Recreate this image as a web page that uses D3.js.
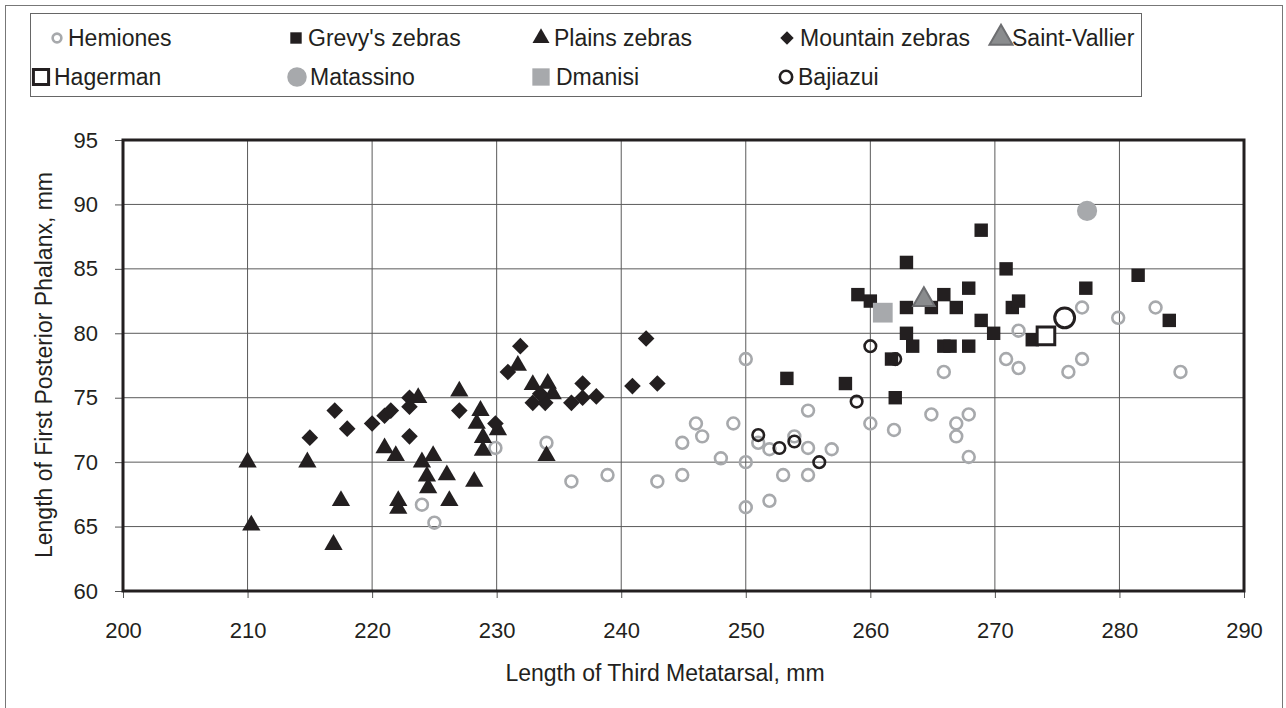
<!DOCTYPE html>
<html>
<head>
<meta charset="utf-8">
<script src="https://cdn.jsdelivr.net/npm/d3@7"></script>
<style>
  body { margin: 0; background: #fff; }
  svg { font-family: "Liberation Sans", Arial, sans-serif; }
</style>
</head>
<body>
<script>
// values: [metatarsal length, phalanx length]
var hemiones = [[224,66.7],[225,65.3],[229.9,71.1],[234,71.5],[236,68.5],[238.9,69],[242.9,68.5],
  [244.9,69],[244.9,71.5],[246,73],[246.5,72],[248,70.3],[249,73],[250,78],[250,70],[250,66.5],
  [251,71.5],[251.9,71],[251.9,67],[253,69],[253.9,72],[255,74],[255,71.1],[256.9,71],[255,69],
  [260,73],[261.9,72.5],[264.9,73.7],[265.9,77],[266.9,73],[266.9,72],[267.9,73.7],[267.9,70.4],
  [270.9,78],[271.9,80.2],[271.9,77.3],[275.9,77],[277,78],[277,82],[279.9,81.2],[282.9,82],[284.9,77]];

var grevys = [[253.3,76.5],[258,76.1],[259,83],[260,82.5],[261.7,78],[262,75],[262.9,85.5],
  [262.9,82],[262.9,80],[263.4,79],[264.9,82],[265.9,83],[265.9,79],[266.4,79],[266.9,82],
  [267.9,83.5],[267.9,79],[268.9,88],[268.9,81],[269.9,80],[270.9,85],[271.4,82],[271.9,82.5],
  [273,79.5],[277.3,83.5],[281.5,84.5],[284,81]];

var plains = [[210,70],[210.3,65.1],[214.8,70],[216.9,63.6],[217.5,67],[221,71.1],[221.9,70.5],
  [222.1,67],[222.1,66.4],[223.7,75],[224,70],[224.4,68.9],[224.5,68],[224.9,70.5],[226,69],
  [226.2,67],[227,75.5],[228.2,68.5],[228.4,73],[228.7,74],[228.9,71.9],[228.9,70.9],[230.1,72.5],
  [231.7,77.5],[232.9,76],[234.1,76.1],[234.5,75.3],[234,70.5]];

var mountain = [[215,71.9],[217,74],[218,72.6],[220,73],[221,73.6],[221.5,74],[223,75],[223,74.3],
  [223,72],[227,74],[229.9,73],[230.9,77],[231.9,79],[232.9,74.6],[233.9,74.6],[233.5,75.3],
  [236,74.6],[236.9,76.1],[236.9,75],[238,75.1],[240.9,75.9],[242,79.6],[242.9,76.1]];

var saintVallier = [[264.3,82.6]];
var hagerman = [[274.1,79.8]];
var matassino = [[277.4,89.5]];
var dmanisi = [[261,81.6]];
var bajiazui = [[251,72.1],[252.7,71.1],[253.9,71.6],[255.9,70],[258.9,74.7],[260,79],[262,78]];
var bajiazuiMean = [[275.6,81.2]];

var xTicks = [200,210,220,230,240,250,260,270,280,290];
var yTicks = [60,65,70,75,80,85,90,95];

var legendRow1 = ["Hemiones","Grevy's zebras","Plains zebras","Mountain zebras","Saint-Vallier"];
var legendRow2 = ["Hagerman","Matassino","Dmanisi","Bajiazui"];

var screen = {width: 1286, height: 708};
var plot = {left: 123, right: 1244, top: 140, bottom: 591};
var ink = "#231f20", grey = "#a7a9ac";

var svg = d3.select("body").append("svg")
            .attr("width", screen.width)
            .attr("height", screen.height);

// outer frame
svg.append("rect").attr("x", 5.5).attr("y", 5.5)
   .attr("width", 1277).attr("height", 720)
   .attr("fill", "none").attr("stroke", "#777").attr("stroke-width", 1);

var x = d3.scaleLinear().domain([200, 290]).range([plot.left, plot.right]);
var y = d3.scaleLinear().domain([60, 95]).range([plot.bottom, plot.top]);

// grid
svg.append("g").selectAll("line").data(xTicks.slice(1, -1)).join("line")
   .attr("x1", d => x(d)).attr("x2", d => x(d))
   .attr("y1", plot.top).attr("y2", plot.bottom)
   .attr("stroke", "#5a5a5a").attr("stroke-width", 1);
svg.append("g").selectAll("line").data(yTicks.slice(1, -1)).join("line")
   .attr("x1", plot.left).attr("x2", plot.right)
   .attr("y1", d => y(d)).attr("y2", d => y(d))
   .attr("stroke", "#5a5a5a").attr("stroke-width", 1);

// axes
var xAxis = svg.append("g")
   .attr("transform", "translate(0," + plot.bottom + ")")
   .call(d3.axisBottom(x).tickValues(xTicks).tickSize(7).tickPadding(24).tickFormat(d3.format("d")));
var yAxis = svg.append("g")
   .attr("transform", "translate(" + plot.left + ",0)")
   .call(d3.axisLeft(y).tickValues(yTicks).tickSize(8).tickPadding(17).tickFormat(d3.format("d")));
[xAxis, yAxis].forEach(function(a) {
  a.select(".domain").remove();
  a.selectAll(".tick line").attr("stroke", "#555");
  a.selectAll(".tick text").attr("fill", ink).style("font-size", "22px")
   .style("font-family", "'Liberation Sans', Arial, sans-serif");
});

// plot frame
svg.append("rect")
   .attr("x", plot.left).attr("y", plot.top)
   .attr("width", plot.right - plot.left).attr("height", plot.bottom - plot.top)
   .attr("fill", "none").attr("stroke", ink).attr("stroke-width", 3);

// marker styles
var styles = {
  hemiones: {type: d3.symbolCircle, size: 110, fill: "none", stroke: grey, sw: 2.6},
  grevys: {type: d3.symbolSquare, size: 180, fill: ink, stroke: "none", sw: 0},
  plains: {type: d3.symbolTriangle, size: 145, fill: ink, stroke: "none", sw: 0},
  mountain: {type: d3.symbolSquare, size: 138, fill: ink, stroke: "none", sw: 0, rotate: 45},
  saintVallier: {type: d3.symbolTriangle, size: 200, fill: "#8a8c8e", stroke: "#6d6e71", sw: 2},
  hagerman: {type: d3.symbolSquare, size: 310, fill: "#fff", stroke: ink, sw: 3},
  matassino: {type: d3.symbolCircle, size: 320, fill: grey, stroke: "none", sw: 0},
  dmanisi: {type: d3.symbolSquare, size: 390, fill: grey, stroke: "none", sw: 0},
  bajiazui: {type: d3.symbolCircle, size: 105, fill: "none", stroke: ink, sw: 2.6},
  bajiazuiMean: {type: d3.symbolCircle, size: 310, fill: "none", stroke: ink, sw: 3}
};

function drawSeries(data, st) {
  svg.append("g").selectAll("path").data(data).join("path")
     .attr("d", d3.symbol().type(st.type).size(st.size))
     .attr("transform", d => "translate(" + x(d[0]) + "," + y(d[1]) + ")" + (st.rotate ? " rotate(" + st.rotate + ")" : ""))
     .attr("fill", st.fill).attr("stroke", st.stroke).attr("stroke-width", st.sw);
}

drawSeries(hemiones, styles.hemiones);
drawSeries(grevys, styles.grevys);
drawSeries(plains, styles.plains);
drawSeries(mountain, styles.mountain);
drawSeries(bajiazui, styles.bajiazui);
drawSeries(dmanisi, styles.dmanisi);
drawSeries(saintVallier, styles.saintVallier);
drawSeries(hagerman, styles.hagerman);
drawSeries(bajiazuiMean, styles.bajiazuiMean);
drawSeries(matassino, styles.matassino);

// axis titles
svg.append("text").attr("x", 665).attr("y", 681)
   .attr("text-anchor", "middle").attr("fill", ink).style("font-size", "23px")
   .text("Length of Third Metatarsal, mm");
svg.append("text").attr("transform", "translate(52,365) rotate(-90)")
   .attr("text-anchor", "middle").attr("fill", ink).style("font-size", "23px")
   .text("Length of First  Posterior Phalanx, mm");

// legend
svg.append("rect").attr("x", 30.5).attr("y", 13.5).attr("width", 1111).attr("height", 83)
   .attr("fill", "#fff").attr("stroke", "#666").attr("stroke-width", 1);

var legendItems = [
  {label: legendRow1[0], st: styles.hemiones, mx: 57, tx: 68, y: 38, size: 60},
  {label: legendRow1[1], st: styles.grevys, mx: 296, tx: 308, y: 38, size: 130},
  {label: legendRow1[2], st: styles.plains, mx: 541, tx: 554, y: 38, size: 125},
  {label: legendRow1[3], st: styles.mountain, mx: 787, tx: 800, y: 38, size: 90},
  {label: legendRow1[4], st: styles.saintVallier, mx: 1001, tx: 1012, y: 38, size: 230},
  {label: legendRow2[0], st: styles.hagerman, mx: 41, tx: 54, y: 77, size: 230},
  {label: legendRow2[1], st: styles.matassino, mx: 297, tx: 310, y: 77, size: 300},
  {label: legendRow2[2], st: styles.dmanisi, mx: 541, tx: 556, y: 77, size: 300},
  {label: legendRow2[3], st: styles.bajiazui, mx: 786, tx: 798, y: 77, size: 120}
];

var leg = svg.append("g").selectAll("g").data(legendItems).join("g");
leg.append("path")
   .attr("d", d => d3.symbol().type(d.st.type).size(d.size)())
   .attr("transform", d => "translate(" + d.mx + "," + d.y + ")" + (d.st.rotate ? " rotate(45)" : ""))
   .attr("fill", d => d.st.fill).attr("stroke", d => d.st.stroke).attr("stroke-width", d => d.st.sw);
leg.append("text")
   .attr("x", d => d.tx).attr("y", d => d.y).attr("dy", "0.36em")
   .attr("fill", ink).style("font-size", "23px")
   .text(d => d.label);
</script>
</body>
</html>
